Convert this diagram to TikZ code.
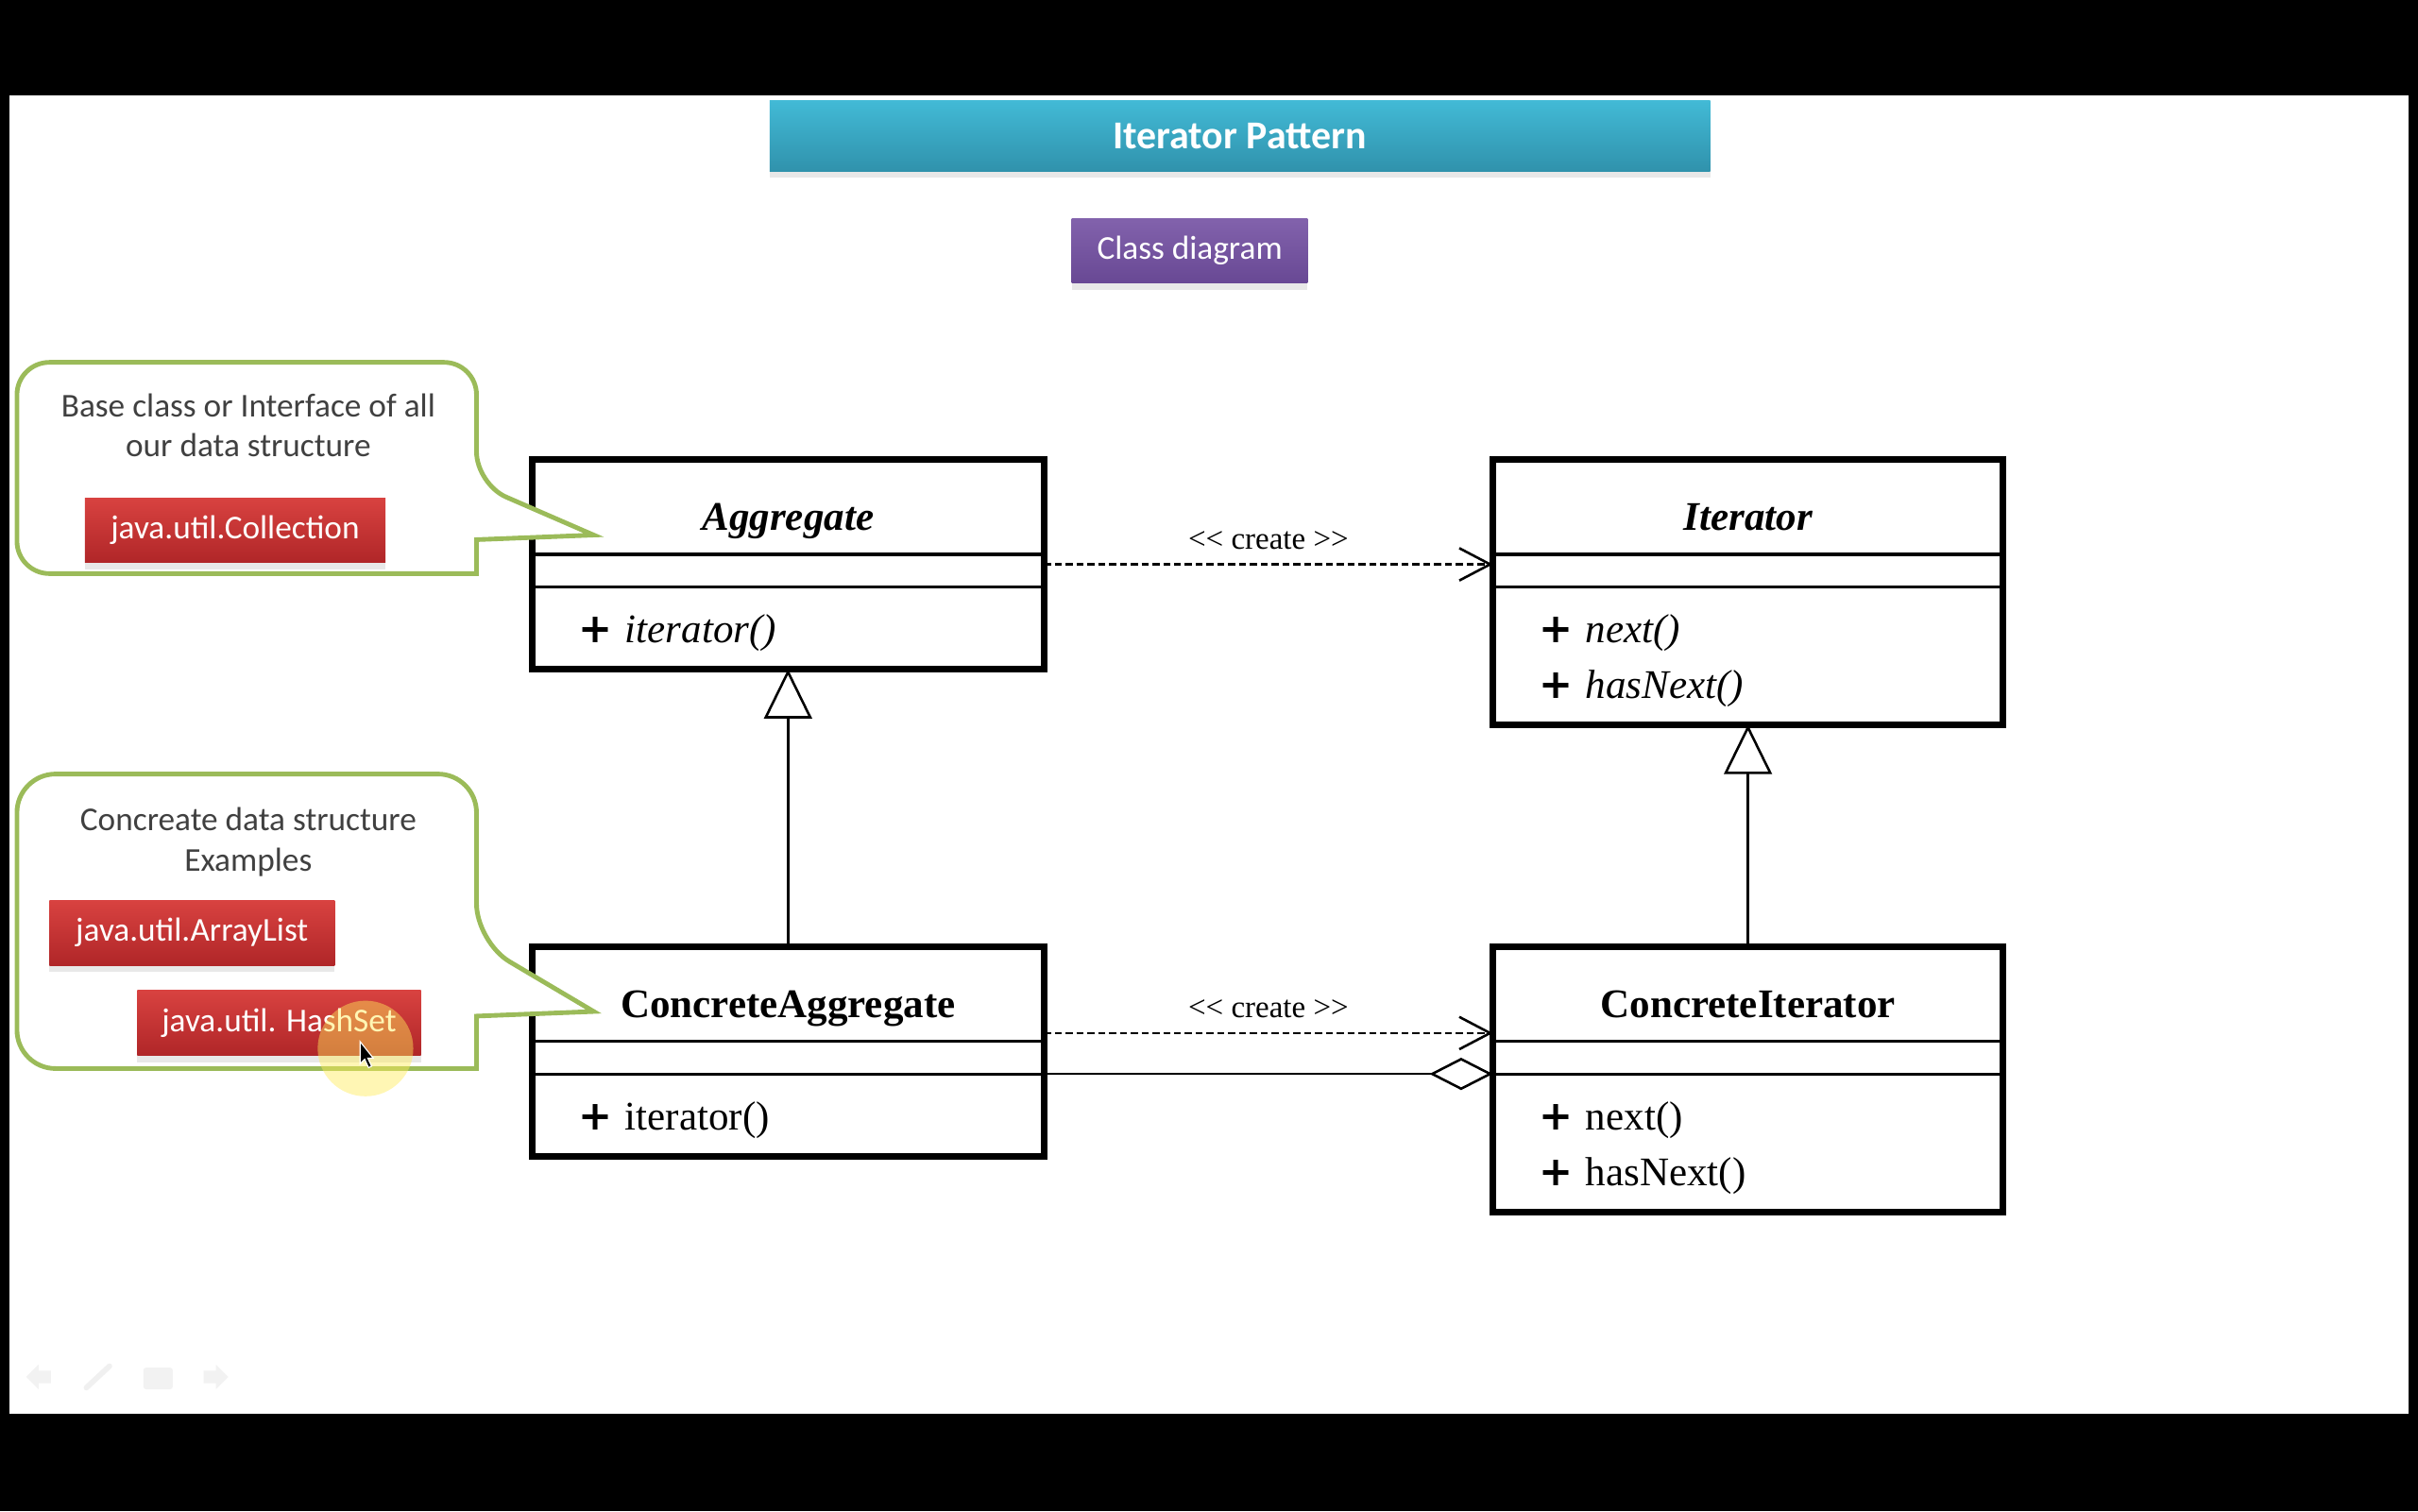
\documentclass[tikz,border=0pt]{standalone}
\usepackage{fontspec}
\setmainfont{Liberation Serif}
\newfontfamily\calibri{Carlito}
\newfontfamily\plusfont{DejaVu Sans}
\usepackage{tikz}
\usetikzlibrary{positioning,fit,arrows.meta,shadows}

\definecolor{calloutgreen}{RGB}{155,187,89}
\definecolor{notegrey}{RGB}{64,64,64}
\definecolor{cyantop}{RGB}{66,186,214}
\definecolor{cyanbottom}{RGB}{48,146,172}
\definecolor{purpletop}{RGB}{130,98,172}
\definecolor{purplebottom}{RGB}{104,72,148}
\definecolor{redtop}{RGB}{216,66,64}
\definecolor{redbottom}{RGB}{176,38,40}
\definecolor{cursorglow}{RGB}{255,236,90}

\newcommand{\pub}{{\plusfont\bfseries +}\hspace{0.3em}}

\begin{document}
\begin{tikzpicture}[x=0.02cm, y=-0.02cm,
        softshadow/.style={drop shadow={shadow xshift=0pt, shadow yshift=-2.5pt, opacity=0.18}},
        titlebox/.style={minimum width=12.2cm, minimum height=0.92cm, top color=cyantop, bottom color=cyanbottom,
            text=white, font=\calibri\bfseries\fontsize{14.6}{17}\selectfont, softshadow},
        diagbox/.style={minimum width=3.06cm, minimum height=0.84cm, top color=purpletop, bottom color=purplebottom,
            text=white, font=\calibri\fontsize{12.3}{14.8}\selectfont, softshadow},
        javabox/.style={minimum height=0.84cm, top color=redtop, bottom color=redbottom,
            text=white, font=\calibri\fontsize{12.3}{14.8}\selectfont, softshadow},
        note/.style={align=center, text=notegrey, font=\calibri\fontsize{12.3}{14.8}\selectfont},
        callout/.style={draw=calloutgreen, line width=1.7pt, fill=white},
        cls/.style={draw, line width=2.5pt, inner sep=0pt, outer sep=0pt},
        sep/.style={line width=1.1pt},
        clsname/.style={anchor=base, inner sep=0pt, font=\fontsize{15}{18}\selectfont\bfseries},
        member/.style={anchor=base west, inner sep=0pt, font=\fontsize{15}{18}\selectfont},
        create/.style={line width=0.9pt, dash pattern=on 2.6pt off 1.4pt, -{Straight Barb[length=0.4cm, width=0.42cm]}},
        inherit/.style={line width=0.9pt, -{Triangle[open, length=0.64cm, width=0.62cm]}},
        aggr/.style={line width=0.9pt, -{Diamond[open, length=0.82cm, width=0.42cm]}},
        stereo/.style={midway, above, inner sep=5pt, font=\fontsize{11.5}{13}\selectfont}]

    \fill[black] (0,0) rectangle (1568,980);
    \fill[white] (6,62) rectangle (1562,917);

    \node[titlebox] (title) at (804,88) {Iterator Pattern};
    \node[diagbox, below=0.6cm of title, xshift=-0.65cm] (diagram) {Class diagram};

    \node[cls, fit={(345,298) (677,434)}] (agg) {};
    \node[cls, fit={(968,298) (1299,470)}] (iter) {};
    \node[cls, fit={(345,614) (677,750)}] (cagg) {};
    \node[cls, fit={(968,614) (1299,786)}] (citer) {};
    \foreach \cl in {agg,iter,cagg,citer} {
        \draw[sep] ([yshift=-1.23cm]\cl.north west) -- ([yshift=-1.23cm]\cl.north east);
        \draw[sep] ([yshift=-1.65cm]\cl.north west) -- ([yshift=-1.65cm]\cl.north east) coordinate (\cl-sep);
    }

    \node[clsname] (agg-name) at ([yshift=-0.92cm]agg.north) {\itshape Aggregate};
    \node[member] (agg-m1) at ([xshift=0.6cm, yshift=-2.38cm]agg.north west) {\pub\textit{iterator()}};
    \node[clsname] (iter-name) at ([yshift=-0.92cm]iter.north) {\itshape Iterator};
    \node[member] (iter-m1) at ([xshift=0.6cm, yshift=-2.38cm]iter.north west) {\pub\textit{next()}};
    \node[member] (iter-m2) at ([xshift=0.6cm, yshift=-3.1cm]iter.north west) {\pub\textit{hasNext()}};
    \node[clsname] (cagg-name) at ([yshift=-0.92cm]cagg.north) {ConcreteAggregate};
    \node[member] (cagg-m1) at ([xshift=0.6cm, yshift=-2.38cm]cagg.north west) {\pub iterator()};
    \node[clsname] (citer-name) at ([yshift=-0.92cm]citer.north) {ConcreteIterator};
    \node[member] (citer-m1) at ([xshift=0.6cm, yshift=-2.38cm]citer.north west) {\pub next()};
    \node[member] (citer-m2) at ([xshift=0.6cm, yshift=-3.1cm]citer.north west) {\pub hasNext()};

    \draw[inherit] (cagg) -- (agg);
    \draw[inherit] (citer) -- (iter);
    \draw[create] (agg.east) -- (agg.east -| iter.west) node[stereo] {<{}< create >{}>};
    \coordinate (cagg-out) at ([yshift=0.24cm]cagg.east);
    \draw[create] (cagg-out) -- (cagg-out -| citer.west) node[stereo] {<{}< create >{}>};
    \draw[aggr] (cagg-sep) -- (cagg-sep -| citer.west);

    \draw[callout] (160,372) [rounded corners=0.42cm] -- (11,372) -- (11,235) -- (309,235) -- (309,314)
        [sharp corners] -- (385,347) -- (309,350) -- (309,372) [rounded corners=0.42cm] -- cycle;
    \draw[callout] (160,693) [rounded corners=0.5cm] -- (11,693) -- (11,502) -- (309,502) -- (309,611)
        [sharp corners] -- (385,656) -- (309,659) -- (309,693) [rounded corners=0.5cm] -- cycle;

    \node[note] (basenote) at (161,276) {Base class or Interface of all\\our data structure};
    \node[javabox, minimum width=3.9cm] (collection) at (152.5,344) {java.util.Collection};
    \node[note] (concnote) at (161,546) {Concreate data structure\\Examples};
    \node[javabox, minimum width=3.7cm] (arraylist) at (124.5,605) {java.util.ArrayList};
    \node[javabox, minimum width=3.68cm] (hashset) at (181,663.5) {java.util. HashSet};

    \fill[cursorglow, opacity=0.45] (237,680) circle (0.62cm);
    \filldraw[fill=black, draw=white, line width=0.4pt] (233.5,675.5) -- (233.5,690) -- (236.5,687) -- (239,692.5)
        -- (241,691.5) -- (238.5,686.2) -- (242,686.2) -- cycle;

    \fill[black!5] (17,893) -- (25,885) -- (25,889) -- (33,889) -- (33,897) -- (25,897) -- (25,901) -- cycle;
    \draw[black!6, line width=2pt, line cap=round] (56,900) -- (71,886);
    \fill[black!5, rounded corners=1pt] (93,887) rectangle (112,901);
    \fill[black!5] (148,893) -- (140,885) -- (140,889) -- (132,889) -- (132,897) -- (140,897) -- (140,901) -- cycle;
\end{tikzpicture}
\end{document}
